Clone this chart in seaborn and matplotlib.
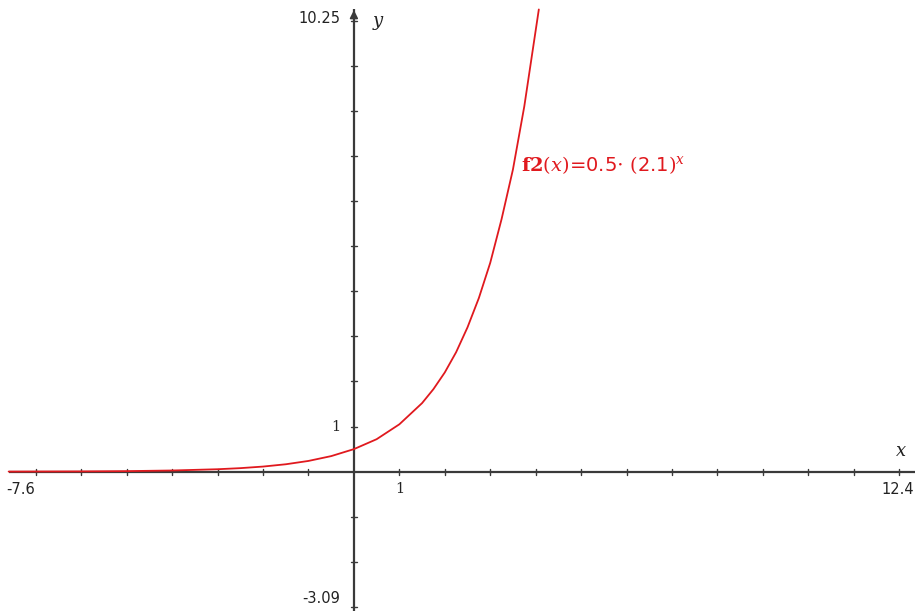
import matplotlib
matplotlib.use("Agg")
import matplotlib.pyplot as plt
import seaborn as sns
import pandas as pd

# Curve samples
curve_x = [-7.6, -6.0, -5.0, -4.0, -3.0, -2.5, -2.0, -1.5, -1.0, -0.5, 0.0,
           0.5, 1.0, 1.5, 1.75, 2.0, 2.25, 2.5, 2.75, 3.0, 3.25, 3.5, 3.75, 4.07]
curve_y = [0.002, 0.006, 0.012, 0.026, 0.054, 0.078, 0.113, 0.164, 0.238, 0.345, 0.50,
           0.72, 1.05, 1.52, 1.83, 2.2, 2.65, 3.2, 3.85, 4.63, 5.6, 6.7, 8.1, 10.25]

x_window = [-7.6, 12.4]
y_window = [-3.09, 10.25]
x_ticks = list(range(-7, 13))
y_ticks = list(range(-3, 11))
x_labels = ["-7.6", "1", "12.4"]
y_labels = ["10.25", "1", "-3.09"]
func_label = r"$\mathbf{f2}\left(x\right)$=0.5$\cdot$ $\left(\mathsf{2.1}\right)^x$"

sns.set_style("white")
plt.rcParams['font.family'] = ['DejaVu Sans']
plt.rcParams['mathtext.fontset'] = 'dejavuserif'

fig = plt.figure(figsize=(9.15, 6.11), dpi=100)
ax = fig.add_axes([0, 0, 1, 1])

axis_col = "#3a3a3a"
red = "#e0191e"

# axes lines
ax.plot(x_window, [0, 0], color=axis_col, lw=1.6, zorder=2, solid_capstyle='butt')
ax.plot([0, 0], y_window, color=axis_col, lw=1.6, zorder=2, solid_capstyle='butt')
ax.annotate("", xy=(x_window[1] - 0.02, 0), xytext=(x_window[1] - 0.45, 0),
            arrowprops=dict(arrowstyle="-|>", color=axis_col, lw=1.2, mutation_scale=12))
ax.annotate("", xy=(0, y_window[1] + 0.05), xytext=(0, y_window[1] - 0.4),
            arrowprops=dict(arrowstyle="-|>", color=axis_col, lw=1.2, mutation_scale=12))

# tick marks
for t in x_ticks:
    if t == 0:
        continue
    ax.plot([t, t], [-0.07, 0.07], color=axis_col, lw=1.0, zorder=2)
for t in y_ticks:
    if t == 0:
        continue
    ax.plot([-0.07, 0.07], [t, t], color=axis_col, lw=1.0, zorder=2)

# curve
df = pd.DataFrame({"x": curve_x, "y": curve_y})
sns.lineplot(data=df, x="x", y="y", ax=ax, color=red, lw=1.3, sort=False,
             estimator=None, zorder=3)
ax.set_xlim(-7.79, 12.35)
ax.set_ylim(-3.09, 10.46)
ax.axis('off')

fs = 10.5
tc = "#222222"
ax.text(-7.6 + 0.27, -0.22, x_labels[0], ha="center", va="top", fontsize=fs, color=tc)
ax.text(1, -0.22, x_labels[1], ha="center", va="top", fontsize=fs, family="serif", color=tc)
ax.text(12.4 - 0.42, -0.22, x_labels[2], ha="center", va="top", fontsize=fs, color=tc)
ax.text(-0.3, 10.05, y_labels[0], ha="right", va="center", fontsize=fs, color=tc)
ax.text(-0.3, 1, y_labels[1], ha="right", va="center", fontsize=fs, family="serif", color=tc)
ax.text(-0.3, -2.82, y_labels[2], ha="right", va="center", fontsize=fs, color=tc)

ax.text(12.05, 0.45, "x", ha="center", va="center", fontsize=13, family="serif",
        style="italic", color=tc)
ax.text(0.52, 10.0, "y", ha="center", va="center", fontsize=13, family="serif",
        style="italic", color=tc)

ax.text(3.68, 6.8, func_label, ha="left", va="center", fontsize=14, color=red)

fig.savefig("out.png", dpi=100)
